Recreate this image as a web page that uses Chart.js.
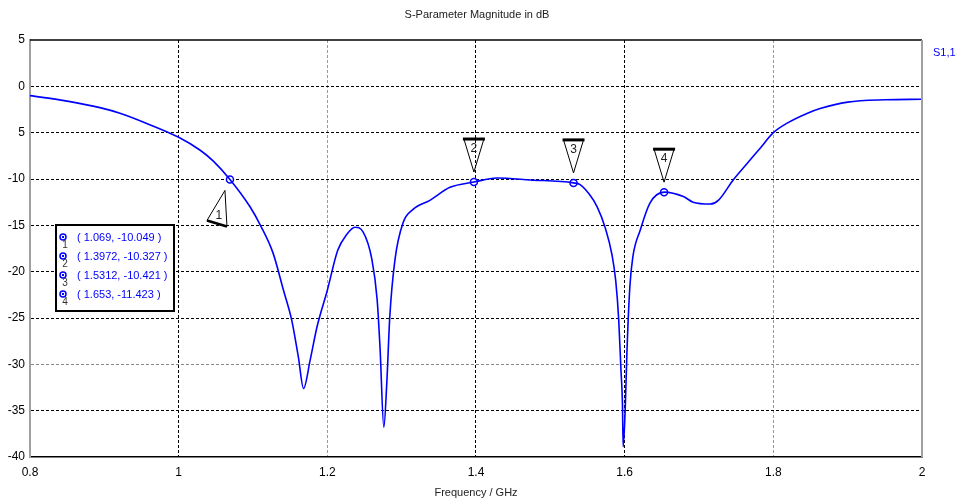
<!DOCTYPE html>
<html lang="en">
<head>
<meta charset="UTF-8">
<title>S-Parameter Magnitude in dB</title>
<script src="https://cdn.jsdelivr.net/npm/chart.js"></script>
<style>
  html, body { margin: 0; padding: 0; background: #fff; }
  #wrap { width: 963px; height: 502px; }
</style>
</head>
<body>
<div id="wrap"><canvas id="chart" width="963" height="502"></canvas></div>
<script>
// S1,1 trace
const freqGHz = [0.80, 0.85, 0.894, 0.921, 0.957, 1.00, 1.029, 1.047, 1.069, 1.096,
  1.11, 1.127, 1.141, 1.152, 1.161, 1.168, 1.177, 1.186, 1.20, 1.214,
  1.226, 1.237, 1.248, 1.26, 1.267, 1.271, 1.276, 1.28, 1.284, 1.291,
  1.302, 1.315, 1.338, 1.365, 1.3972, 1.428, 1.473, 1.5312, 1.54, 1.552,
  1.563, 1.574, 1.583, 1.588, 1.592, 1.595, 1.597, 1.598, 1.601, 1.603,
  1.607, 1.611, 1.621, 1.634, 1.653, 1.679, 1.692, 1.715, 1.726, 1.746,
  1.765, 1.782, 1.80, 1.818, 1.846, 1.863, 1.90, 1.95, 2.00];
const s11dB = [-1.0, -1.6, -2.3, -2.9, -4.0, -5.5, -6.9, -8.1, -10.05, -13.0,
  -15.0, -18.0, -22.0, -25.2, -29.2, -32.6, -29.5, -26.0, -22.0, -17.7,
  -16.0, -15.2, -15.7, -18.7, -23.0, -28.4, -36.8, -32.0, -24.9, -18.7,
  -14.7, -13.3, -12.3, -10.9, -10.33, -9.9, -10.1, -10.42, -10.6, -11.6,
  -13.0, -15.3, -18.2, -21.0, -25.2, -30.6, -34.2, -38.9, -34.2, -28.8,
  -21.6, -18.4, -15.5, -12.6, -11.42, -11.9, -12.5, -12.7, -12.3, -10.1,
  -8.3, -6.7, -5.0, -4.0, -2.9, -2.4, -1.7, -1.45, -1.4];

// markers
const markerNames = ['1', '2', '3', '4'];
const markerFreq = [1.069, 1.3972, 1.5312, 1.653];
const markerDB = [-10.049, -10.327, -10.421, -11.423];
const markerText = ['( 1.069, -10.049 )', '( 1.3972, -10.327 )', '( 1.5312, -10.421 )', '( 1.653, -11.423 )'];

// axis ticks
const xTicks = [0.8, 1, 1.2, 1.4, 1.6, 1.8, 2];
const yTicks = [5, 0, -5, -10, -15, -20, -25, -30, -35, -40];
const yTickText = ['5', '0', '5', '-10', '-15', '-20', '-25', '-30', '-35', '-40'];

const FONT = 'Liberation Sans';
const BLUE = '#0000ff';

const extras = {
  id: 'extras',
  afterDraw(chart) {
    const { ctx, chartArea: a, scales } = chart;
    const xs = scales.x, ys = scales.y;
    ctx.save();

    // frame: top black, right grey
    ctx.strokeStyle = '#000';
    ctx.lineWidth = 1.5;
    ctx.beginPath();
    ctx.moveTo(a.left, a.top); ctx.lineTo(a.right, a.top);
    ctx.stroke();
    ctx.strokeStyle = '#a0a0a0';
    ctx.lineWidth = 2;
    ctx.beginPath();
    ctx.moveTo(a.right, a.top); ctx.lineTo(a.right, a.bottom);
    ctx.stroke();

    // title + trace name
    ctx.fillStyle = '#222';
    ctx.font = '11px ' + FONT;
    ctx.textAlign = 'center';
    ctx.textBaseline = 'middle';
    ctx.fillText('S-Parameter Magnitude in dB', 477, 15);
    ctx.fillStyle = BLUE;
    ctx.textAlign = 'left';
    ctx.fillText('S1,1', 933, 53);

    // marker flags
    ctx.font = '12px ' + FONT;
    markerFreq.forEach((f, i) => {
      const px = xs.getPixelForValue(f);
      const py = ys.getPixelForValue(markerDB[i]);
      ctx.strokeStyle = '#000';
      if (i === 0) {
        const l = [px - 23, py + 41], r = [px - 3, py + 47], t = [px - 5, py + 11];
        ctx.lineWidth = 1;
        ctx.beginPath();
        ctx.moveTo(l[0], l[1]); ctx.lineTo(t[0], t[1]); ctx.lineTo(r[0], r[1]);
        ctx.stroke();
        ctx.lineWidth = 2.5;
        ctx.beginPath();
        ctx.moveTo(l[0], l[1]); ctx.lineTo(r[0], r[1]);
        ctx.stroke();
        ctx.fillStyle = '#222';
        ctx.textAlign = 'center';
        ctx.fillText(markerNames[i], px - 11, py + 36);
      } else {
        ctx.lineWidth = 1;
        ctx.beginPath();
        ctx.moveTo(px - 10, py - 43); ctx.lineTo(px, py - 10); ctx.lineTo(px + 10, py - 43);
        ctx.stroke();
        ctx.lineWidth = 3;
        ctx.beginPath();
        ctx.moveTo(px - 11, py - 43); ctx.lineTo(px + 11, py - 43);
        ctx.stroke();
        ctx.fillStyle = '#222';
        ctx.textAlign = 'center';
        ctx.fillText(markerNames[i], px, py - 33);
      }
    });

    // marker readout box
    ctx.fillStyle = '#fff';
    ctx.fillRect(56, 225, 118, 86);
    ctx.strokeStyle = '#000';
    ctx.lineWidth = 2;
    ctx.strokeRect(56, 225, 118, 86);
    const rows = [238, 257, 276, 295];
    rows.forEach((y, i) => {
      ctx.strokeStyle = BLUE;
      ctx.lineWidth = 1.5;
      ctx.beginPath();
      ctx.arc(63, y - 1, 3, 0, Math.PI * 2);
      ctx.stroke();
      ctx.fillStyle = BLUE;
      ctx.fillRect(62, y - 2, 2, 2);
      ctx.fillStyle = '#333';
      ctx.font = '10px ' + FONT;
      ctx.textAlign = 'center';
      ctx.fillText(markerNames[i], 65, y + 7);
      ctx.fillStyle = BLUE;
      ctx.font = '11px ' + FONT;
      ctx.textAlign = 'left';
      ctx.fillText(markerText[i], 77, y);
    });
    ctx.restore();
  }
};

function gridColorX(c) {
  const v = c.tick.value;
  if (v <= 0.8 || v >= 2) return 'rgba(0,0,0,0)';
  if (Math.abs(v - 1.2) < 1e-6 || Math.abs(v - 1.8) < 1e-6) return '#999';
  return '#000';
}
function gridColorY(c) {
  const v = c.tick.value;
  if (v >= 5 || v <= -40) return 'rgba(0,0,0,0)';
  if (v === -30) return '#888';
  return '#000';
}

new Chart(document.getElementById('chart'), {
  type: 'line',
  data: {
    datasets: [
      {
        label: 'S1,1',
        data: freqGHz.map((f, i) => ({ x: f, y: s11dB[i] })),
        borderColor: BLUE,
        borderWidth: 1.6,
        pointRadius: 0,
        cubicInterpolationMode: 'monotone'
      },
      {
        label: 'markers',
        data: markerFreq.map((f, i) => ({ x: f, y: markerDB[i] })),
        showLine: false,
        pointRadius: 3.5,
        pointBorderWidth: 1.5,
        pointBorderColor: BLUE,
        pointBackgroundColor: '#fff'
      }
    ]
  },
  options: {
    responsive: false,
    animation: false,
    layout: { padding: { top: 40, right: 41, left: 0, bottom: 0 } },
    plugins: { legend: { display: false }, tooltip: { enabled: false } },
    scales: {
      x: {
        type: 'linear',
        min: 0.8,
        max: 2,
        afterBuildTicks: s => { s.ticks = xTicks.map(v => ({ value: v })); },
        afterFit: s => { s.height = 45; },
        ticks: {
          padding: 8,
          color: '#000',
          font: { family: FONT, size: 12 },
          callback: v => String(v)
        },
        grid: { color: gridColorX, drawTicks: false, lineWidth: 1 },
        border: { display: true, color: '#000', width: 1.5, dash: [3, 2] },
        title: {
          display: true,
          text: 'Frequency / GHz',
          color: '#222',
          font: { family: FONT, size: 11 },
          padding: { top: 0, bottom: 2 }
        }
      },
      y: {
        type: 'linear',
        min: -40,
        max: 5,
        afterBuildTicks: s => { s.ticks = yTicks.map(v => ({ value: v })); },
        afterFit: s => { s.width = 30; },
        ticks: {
          padding: 5,
          color: '#000',
          font: { family: FONT, size: 12 },
          callback: (v, i) => yTickText[i]
        },
        grid: { color: gridColorY, drawTicks: false, lineWidth: 1 },
        border: { display: true, color: '#a0a0a0', width: 2, dash: [3, 2] }
      }
    }
  },
  plugins: [extras]
});
</script>
</body>
</html>
